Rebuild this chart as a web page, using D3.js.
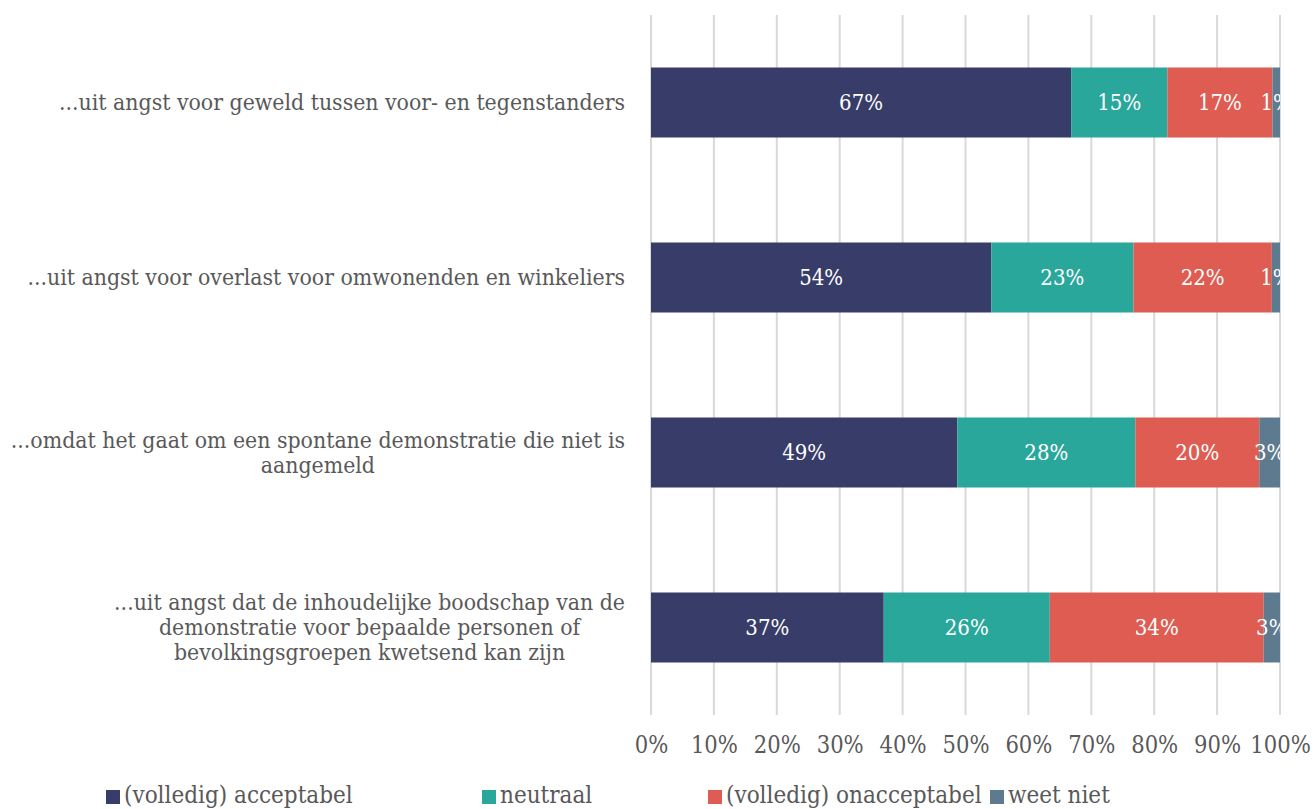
<!DOCTYPE html>
<html><head><meta charset="utf-8">
<script src="https://cdn.jsdelivr.net/npm/d3@7"></script>
<style>body{margin:0;background:#fff}svg{display:block}</style>
</head><body>
<svg id="c" width="1316" height="809"></svg>
<script>
const categories = [
  ["...uit angst voor geweld tussen voor- en tegenstanders"],
  ["...uit angst voor overlast voor omwonenden en winkeliers"],
  ["...omdat het gaat om een spontane demonstratie die niet is", "aangemeld"],
  ["...uit angst dat de inhoudelijke boodschap van de", "demonstratie voor bepaalde personen of", "bevolkingsgroepen kwetsend kan zijn"]
];
const seriesNames = ["(volledig) acceptabel", "neutraal", "(volledig) onacceptabel", "weet niet"];
const acceptabel   = [66.8, 54.1, 48.7, 37.0];
const neutraal     = [15.3, 22.6, 28.3, 26.4];
const onacceptabel = [16.7, 22.0, 19.7, 34.0];
const weetNiet     = [1.2, 1.3, 3.3, 2.6];
const seriesColors = ["#383c68", "#2aa79b", "#de5c51", "#5e7a8e"];
const xTicks = [0,10,20,30,40,50,60,70,80,90,100];

(function(){
const svg = d3.select("#c");
const FONT = "'DejaVu Serif Condensed','DejaVu Serif',serif";
const pL = 651, pR = 1280, pT = 15, pB = 715;
const x = d3.scaleLinear().domain([0,100]).range([pL,pR]);
const y = d3.scaleBand().domain(d3.range(categories.length)).range([pT,pB]).paddingInner(0.6).paddingOuter(0.3);

svg.append("g").selectAll("line").data(xTicks).join("line")
  .attr("x1", d=>x(d)).attr("x2", d=>x(d)).attr("y1", pT).attr("y2", pB)
  .attr("stroke", "#d9d9d9").attr("stroke-width", 2);

const series = [acceptabel, neutraal, onacceptabel, weetNiet];
const rows = categories.map((c,i)=>{ const o={i}; series.forEach((s,k)=>o[k]=s[i]); return o; });
const stacked = d3.stack().keys([0,1,2,3])(rows);

svg.append("defs").append("clipPath").attr("id","plotclip")
  .append("rect").attr("x", pL).attr("y", 0).attr("width", pR-pL).attr("height", 809);

stacked.forEach((layer,k)=>{
  svg.append("g").selectAll("rect").data(layer).join("rect")
    .attr("x", d=>x(d[0])).attr("width", d=>x(d[1])-x(d[0]))
    .attr("y", (d,i)=>y(i)).attr("height", y.bandwidth())
    .attr("fill", seriesColors[k]);
});
const lg = svg.append("g").attr("clip-path","url(#plotclip)");
stacked.forEach((layer,k)=>{
  lg.append("g").selectAll("text").data(layer).join("text")
    .attr("x", d=>(x(d[0])+x(d[1]))/2).attr("y", (d,i)=>y(i)+y.bandwidth()/2)
    .attr("dy","0.35em").attr("text-anchor","middle")
    .attr("fill","#fff").attr("font-family",FONT).attr("font-size",22)
    .text(d=>Math.round(d[1]-d[0])+"%");
});

categories.forEach((lines,i)=>{
  const cy = y(i)+y.bandwidth()/2;
  const lh = 25;
  const t = svg.append("text").attr("font-family",FONT).attr("font-size",22.8).attr("fill","#595959")
    .attr("text-anchor","middle");
  const n = lines.length;
  lines.forEach((ln,j)=>{
    t.append("tspan").attr("y", cy + (j-(n-1)/2)*lh).attr("dy","0.35em").text(ln);
  });
  const w = d3.max(t.selectAll("tspan").nodes(), nd=>nd.getComputedTextLength());
  t.selectAll("tspan").attr("x", 625 - w/2);
});

const xAxis = d3.axisBottom(x).tickValues(xTicks).tickFormat(d=>d+"%").tickSize(0).tickPadding(0);
const ax = svg.append("g").attr("transform",`translate(0,745)`).call(xAxis);
ax.select(".domain").remove();
ax.selectAll("text").attr("font-family",FONT).attr("font-size",23.5).attr("fill","#595959").attr("dy","0.35em").attr("y",0);

const legendX = [106, 482, 708, 990];
const leg = svg.append("g");
seriesNames.forEach((n,k)=>{
  leg.append("rect").attr("x",legendX[k]).attr("y",790).attr("width",14).attr("height",14).attr("fill",seriesColors[k]);
  leg.append("text").attr("x",legendX[k]+18).attr("y",795).attr("dy","0.35em")
    .attr("font-family",FONT).attr("font-size",24).attr("fill","#595959").text(n);
});
})();
</script>
</body></html>
